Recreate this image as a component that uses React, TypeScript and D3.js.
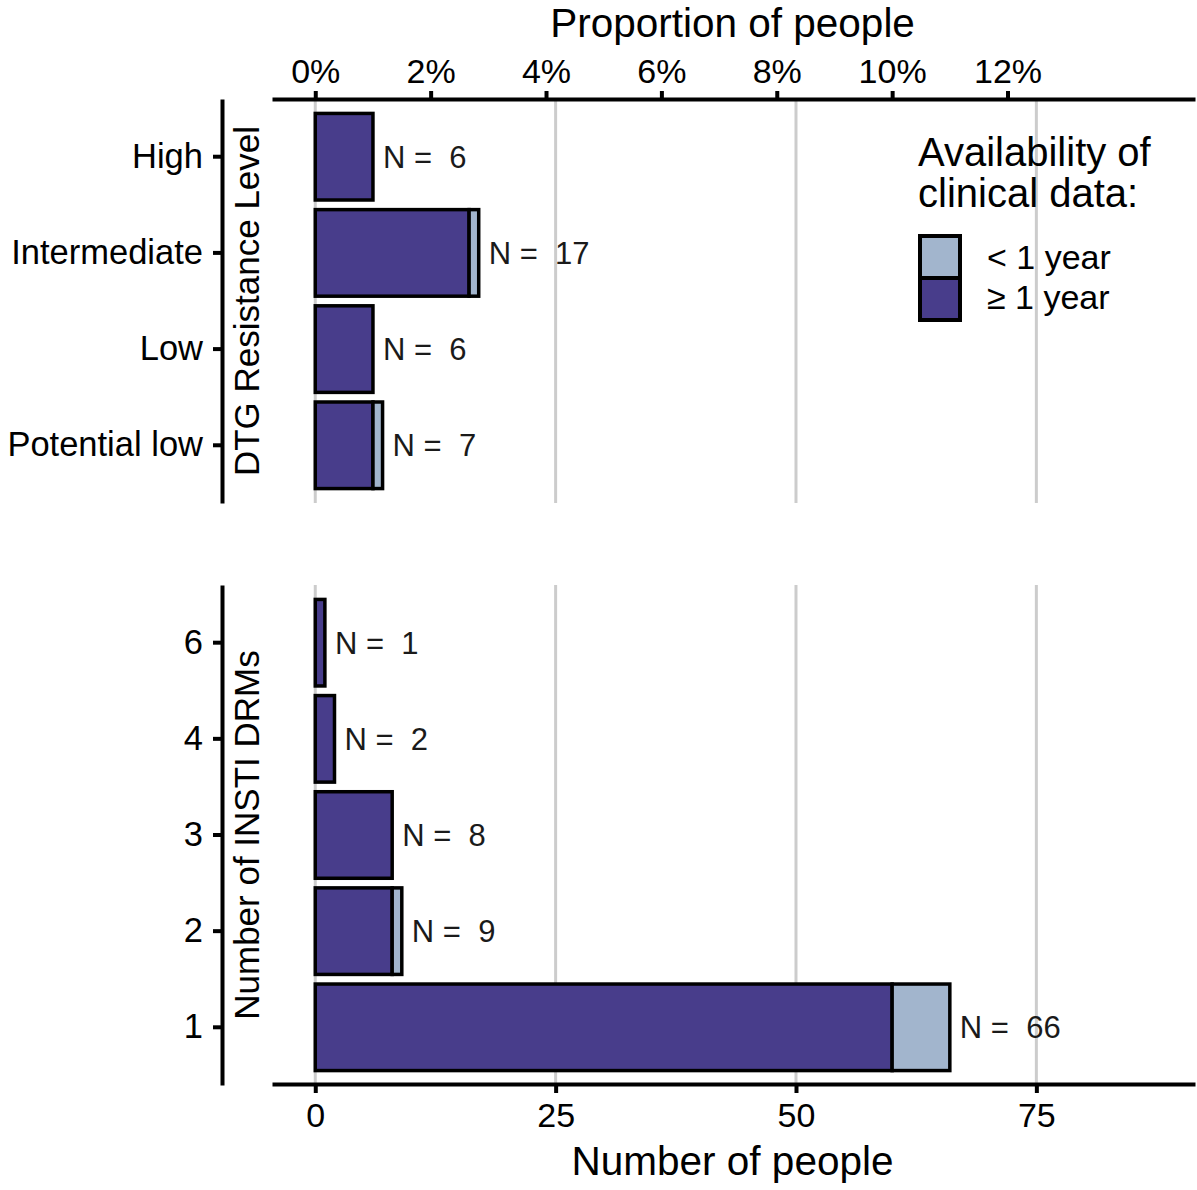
import React, { useRef, useEffect } from "react";
import * as d3 from "d3";

const WIDTH = 1197;
const HEIGHT = 1190;
const FONT = "'Liberation Sans', Arial, sans-serif";

// DTG resistance panel
const dtgLevels = ["High", "Intermediate", "Low", "Potential low"];
const dtgAtLeastOneYear = [6, 16, 6, 6];
const dtgUnderOneYear = [0, 1, 0, 1];

// INSTI DRM panel
const drmCounts = ["6", "4", "3", "2", "1"];
const drmAtLeastOneYear = [1, 2, 8, 8, 60];
const drmUnderOneYear = [0, 0, 0, 1, 6];

const TOTAL_PEOPLE = 600;
const countTicks = [0, 25, 50, 75];
const propTicks = [0, 0.02, 0.04, 0.06, 0.08, 0.1, 0.12];

const legendKeys = ["< 1 year", "\u2265 1 year"];
const COLOR_OLD = "#483D8B";
const COLOR_NEW = "#A2B5CD";

export default function App() {
  const svgRef = useRef<SVGSVGElement | null>(null);

  useEffect(() => {
    document.body.style.margin = "0";
    const svg = d3.select(svgRef.current);
    svg.selectAll("*").remove();

    const x = d3.scaleLinear().domain([-4.5, 91.5]).range([272, 1195]);
    const xProp = d3
      .scaleLinear()
      .domain([-4.5 / TOTAL_PEOPLE, 91.5 / TOTAL_PEOPLE])
      .range([272, 1195]);

    const panels = [
      { cats: dtgLevels, old: dtgAtLeastOneYear, recent: dtgUnderOneYear, top: 99, bottom: 503, title: "DTG Resistance Level" },
      { cats: drmCounts, old: drmAtLeastOneYear, recent: drmUnderOneYear, top: 585, bottom: 1085, title: "Number of INSTI DRMs" },
    ];

    panels.forEach((p) => {
      const y = d3
        .scaleBand<string>()
        .domain(p.cats)
        .range([p.top, p.bottom])
        .paddingInner(0.1)
        .paddingOuter(0.15);

      // grid
      svg
        .append("g")
        .selectAll("line")
        .data(countTicks)
        .enter()
        .append("line")
        .attr("x1", (d) => x(d))
        .attr("x2", (d) => x(d))
        .attr("y1", p.top)
        .attr("y2", p.bottom)
        .attr("stroke", "#cccccc")
        .attr("stroke-width", 3);

      const rows = p.cats.map((c, i) => ({ cat: c, old: p.old[i], recent: p.recent[i] }));
      const g = svg.append("g");
      rows.forEach((r) => {
        const y0 = y(r.cat)!;
        const h = y.bandwidth();
        g.append("rect")
          .attr("x", x(0))
          .attr("y", y0)
          .attr("width", x(r.old) - x(0))
          .attr("height", h)
          .attr("fill", COLOR_OLD)
          .attr("stroke", "#000")
          .attr("stroke-width", 3.5);
        if (r.recent > 0) {
          g.append("rect")
            .attr("x", x(r.old))
            .attr("y", y0)
            .attr("width", x(r.old + r.recent) - x(r.old))
            .attr("height", h)
            .attr("fill", COLOR_NEW)
            .attr("stroke", "#000")
            .attr("stroke-width", 3.5);
        }
        g.append("text")
          .attr("x", x(r.old + r.recent) + 10)
          .attr("y", y0 + h / 2)
          .attr("dy", "0.36em")
          .attr("font-family", FONT)
          .attr("font-size", 31)
          .attr("fill", "#1a1a1a")
          .style("white-space", "pre")
          .text(`N =  ${r.old + r.recent}`);
      });

      // y axis
      const ax = svg
        .append("g")
        .attr("transform", `translate(222,0)`)
        .call(d3.axisLeft(y).tickSize(9).tickSizeOuter(0).tickPadding(10));
      ax.select(".domain").attr("stroke", "#000").attr("stroke-width", 4);
      ax.selectAll(".tick line").attr("stroke", "#000").attr("stroke-width", 4);
      ax.selectAll(".tick text")
        .attr("font-family", FONT)
        .attr("font-size", 34.5)
        .attr("fill", "#000");

      svg
        .append("text")
        .attr("transform", `translate(259,${(p.top + p.bottom) / 2}) rotate(-90)`)
        .attr("text-anchor", "middle")
        .attr("font-family", FONT)
        .attr("font-size", 35)
        .attr("fill", "#000")
        .text(p.title);
    });

    // top axis (proportion)
    const topAx = svg
      .append("g")
      .attr("transform", `translate(0,99)`)
      .call(
        d3
          .axisTop(xProp)
          .tickValues(propTicks)
          .tickFormat(d3.format(".0%"))
          .tickSize(8)
          .tickSizeOuter(0)
          .tickPadding(8)
      );
    topAx.select(".domain").attr("stroke", "#000").attr("stroke-width", 4);
    topAx.selectAll(".tick line").attr("stroke", "#000").attr("stroke-width", 4);
    topAx.selectAll(".tick text").attr("font-family", FONT).attr("font-size", 34).attr("fill", "#000");

    svg
      .append("text")
      .attr("x", x(43.4))
      .attr("y", 37)
      .attr("text-anchor", "middle")
      .attr("font-family", FONT)
      .attr("font-size", 40.5)
      .attr("fill", "#000")
      .text("Proportion of people");

    // bottom axis (count)
    const botAx = svg
      .append("g")
      .attr("transform", `translate(0,1084)`)
      .call(d3.axisBottom(x).tickValues(countTicks).tickSize(9).tickSizeOuter(0).tickPadding(10));
    botAx.select(".domain").attr("stroke", "#000").attr("stroke-width", 4);
    botAx.selectAll(".tick line").attr("stroke", "#000").attr("stroke-width", 4);
    botAx.selectAll(".tick text").attr("font-family", FONT).attr("font-size", 34).attr("fill", "#000");

    svg
      .append("text")
      .attr("x", x(43.4))
      .attr("y", 1175)
      .attr("text-anchor", "middle")
      .attr("font-family", FONT)
      .attr("font-size", 40.5)
      .attr("fill", "#000")
      .text("Number of people");

    // legend
    const lg = svg.append("g").attr("transform", "translate(918,0)");
    lg.append("text")
      .attr("x", 0)
      .attr("y", 166)
      .attr("font-family", FONT)
      .attr("font-size", 40)
      .attr("fill", "#000")
      .text("Availability of");
    lg.append("text")
      .attr("x", 0)
      .attr("y", 207)
      .attr("font-family", FONT)
      .attr("font-size", 40)
      .attr("fill", "#000")
      .text("clinical data:");
    legendKeys.forEach((k, i) => {
      lg.append("rect")
        .attr("x", 2)
        .attr("y", 236 + i * 42)
        .attr("width", 40)
        .attr("height", 42)
        .attr("fill", i === 0 ? COLOR_NEW : COLOR_OLD)
        .attr("stroke", "#000")
        .attr("stroke-width", 4);
      lg.append("text")
        .attr("x", 69)
        .attr("y", 257 + i * 40)
        .attr("dy", "0.36em")
        .attr("font-family", FONT)
        .attr("font-size", 34)
        .attr("fill", "#000")
        .text(k);
    });
  }, []);

  return <svg ref={svgRef} width={WIDTH} height={HEIGHT} style={{ display: "block", background: "#fff" }} />;
}
